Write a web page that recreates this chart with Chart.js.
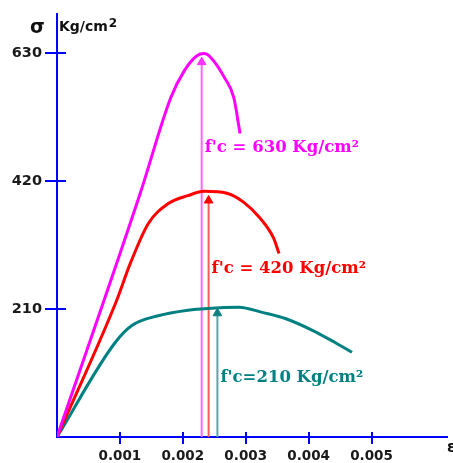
<!DOCTYPE html>
<html>
<head>
<meta charset="utf-8">
<script src="https://cdn.jsdelivr.net/npm/chart.js@4.4.1/dist/chart.umd.min.js"></script>
<style>
  html, body { margin: 0; padding: 0; background: #fff; }
  #wrap { width: 453px; height: 463px; }
</style>
</head>
<body>
<div id="wrap"><canvas id="stressChart"></canvas></div>
<script>
const xTicks = [0.001, 0.002, 0.003, 0.004, 0.005];
const yTicks = [210, 420, 630];

// f'c = 630
const strain630 = [0, 0.00133, 0.00181, 0.00203, 0.00223, 0.00234, 0.00244, 0.00266, 0.00281, 0.00291];
const stress630 = [0, 402, 557, 602, 626, 629, 623, 590, 557, 498];

// f'c = 420
const strain420 = [0, 0.00094, 0.00117, 0.00145, 0.00177, 0.00208, 0.00234, 0.00270, 0.00297, 0.00322, 0.00344, 0.00353];
const stress420 = [0, 222, 286, 350, 383, 396, 403, 400, 385, 360, 327, 301];

// f'c = 210
const strain210 = [0, 0.00091, 0.00119, 0.00161, 0.00208, 0.00239, 0.00289, 0.00328, 0.00364, 0.00406, 0.00442, 0.00469];
const stress210 = [0, 153, 183, 199, 208, 211, 213, 204, 194, 175, 155, 139];

// peak arrows
const peakStrain = [0.0023, 0.00241, 0.00255];
const arrowTop = [615, 388, 203];
const curveNames = ["f'c = 630 Kg/cm²", "f'c = 420 Kg/cm²", "f'c=210 Kg/cm²"];
const labelStress = [468, 269, 90];

const curveColors = ['#ff00ff', '#ff0000', '#008080'];
const arrowColors = ['#ff66ff', '#ff5a5a', '#5aa5a5'];
const headColors = ['#ff33ff', '#ff0000', '#108080'];

const pts = (xs, ys) => xs.map((v, i) => ({ x: v, y: ys[i] }));

const curves = [pts(strain630, stress630), pts(strain420, stress420), pts(strain210, stress210)];

const datasets = [];
curves.forEach((d, i) => {
  datasets.push({
    data: d,
    borderColor: curveColors[i],
    borderWidth: 3,
    pointRadius: 0,
    fill: false,
    cubicInterpolationMode: 'monotone'
  });
});
peakStrain.forEach((s, i) => {
  datasets.push({
    data: [{ x: s, y: 0 }, { x: s, y: arrowTop[i] }],
    borderColor: arrowColors[i],
    borderWidth: 2,
    pointRadius: [0, 5],
    pointStyle: 'triangle',
    pointBackgroundColor: headColors[i],
    pointBorderColor: headColors[i],
    pointBorderWidth: 1
  });
});

const overlay = {
  id: 'overlay',
  afterDraw(chart) {
    const { ctx, chartArea: a, scales: { x, y } } = chart;
    ctx.save();
    // tick marks crossing the axes
    ctx.strokeStyle = '#0000ff';
    ctx.lineWidth = 2;
    ctx.beginPath();
    xTicks.forEach(v => {
      const px = Math.round(x.getPixelForValue(v));
      ctx.moveTo(px, a.bottom - 5);
      ctx.lineTo(px, a.bottom + 7);
    });
    yTicks.forEach(v => {
      const py = Math.round(y.getPixelForValue(v));
      ctx.moveTo(a.left - 12, py);
      ctx.lineTo(a.left + 9, py);
    });
    ctx.stroke();

    // axis names
    ctx.fillStyle = '#111';
    ctx.textBaseline = 'alphabetic';
    ctx.textAlign = 'left';
    ctx.font = 'bold 19px "DejaVu Sans"';
    ctx.fillText('σ', 30, 33);
    ctx.font = 'bold 14px "DejaVu Sans"';
    ctx.fillText('Kg/cm', 59, 31);
    const w = ctx.measureText('Kg/cm').width;
    ctx.font = 'bold 12px "DejaVu Sans"';
    ctx.fillText('2', 59 + w + 1, 27);
    ctx.font = 'bold 15px "DejaVu Sans"';
    ctx.fillText('ε', 447, 452);

    // curve labels
    ctx.font = 'bold 16.5px "DejaVu Serif"';
    curveNames.forEach((t, i) => {
      ctx.fillStyle = curveColors[i];
      ctx.fillText(t, x.getPixelForValue(peakStrain[i]) + 3, y.getPixelForValue(labelStress[i]));
    });
    ctx.restore();
  }
};

new Chart(document.getElementById('stressChart'), {
  type: 'line',
  data: { datasets },
  options: {
    responsive: true,
    maintainAspectRatio: false,
    animation: false,
    layout: { padding: { top: 14, right: 0, left: 0, bottom: 0 } },
    plugins: { legend: { display: false }, tooltip: { enabled: false } },
    scales: {
      x: {
        type: 'linear',
        min: 0,
        max: 0.0062,
        grid: { display: false, drawTicks: false },
        border: { color: '#0000ff', width: 2 },
        afterBuildTicks: s => { s.ticks = xTicks.map(v => ({ value: v })); },
        afterFit: s => { s.height = 26; s.paddingLeft = 0; s.paddingRight = 0; },
        ticks: {
          padding: 11,
          color: '#1a1a1a',
          font: { family: 'DejaVu Sans', size: 13.5, weight: 'bold' },
          callback: v => v.toFixed(3)
        }
      },
      y: {
        type: 'linear',
        min: 0,
        max: 694,
        grid: { display: false, drawTicks: false },
        border: { color: '#0000ff', width: 2 },
        afterBuildTicks: s => { s.ticks = yTicks.map(v => ({ value: v })); },
        afterFit: s => { s.width = 57; s.paddingTop = 0; s.paddingBottom = 0; },
        ticks: {
          padding: 15,
          color: '#1a1a1a',
          font: { family: 'DejaVu Sans', size: 14.5, weight: 'bold' }
        }
      }
    }
  },
  plugins: [overlay]
});
</script>
</body>
</html>
